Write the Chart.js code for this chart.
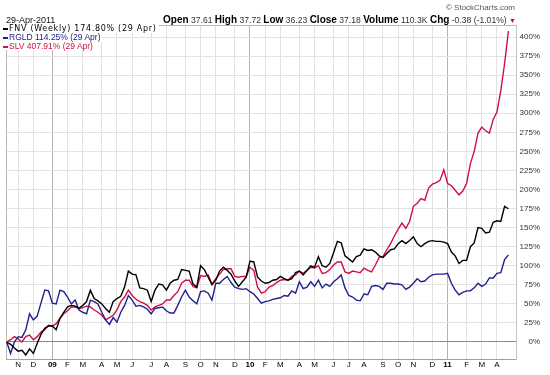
<!DOCTYPE html>
<html lang="en">
<head>
<meta charset="UTF-8">
<title>FNV / RGLD / SLV</title>
<script src="https://cdn.jsdelivr.net/npm/chart.js"></script>
<style>
  body { margin: 0; background: #fff; }
  #wrap { position: relative; width: 550px; height: 375px; font-family: "Liberation Sans", Arial, sans-serif; }
  #grafico { position: absolute; left: 0; top: 0; }
  .txt { position: absolute; white-space: nowrap; line-height: 1; }
  #copy { right: 35px; top: 4px; font-size: 8px; color: #555; }
  #data { left: 6px; top: 16px; font-size: 9px; color: #111; }
  #ohlc { right: 34px; top: 15px; font-size: 8.6px; color: #333; }
  #ohlc b { font-size: 10px; color: #000; }
  #ohlc .seta { color: #c8102e; font-size: 7px; }
  #legenda { position: absolute; left: 3px; top: 25px; }
  .leg { display: table; height: 8.4px; line-height: 8.4px; white-space: nowrap; font-size: 8.5px; background: #fff; padding-right: 2px; }
  .leg span.m { display: inline-block; width: 5px; height: 2px; margin-right: 1px; vertical-align: middle; }
</style>
</head>
<body>
<div id="wrap">
  <canvas id="grafico" width="550" height="375"></canvas>
  <div class="txt" id="copy">&copy; StockCharts.com</div>
  <div class="txt" id="data">29-Apr-2011</div>
  <div class="txt" id="ohlc"><b>Open</b> 37.61 <b>High</b> 37.72 <b>Low</b> 36.23 <b>Close</b> 37.18 <b>Volume</b> 110.3K <b>Chg</b> -0.38 (-1.01%) <span class="seta">&#9660;</span></div>
  <div id="legenda">
    <div class="leg" style="font-family: 'DejaVu Sans'; font-size: 8px; letter-spacing: 0.7px; color:#000"><span class="m" style="background:#000"></span><span>FNV (Weekly) 174.80% (29 Apr)</span></div>
    <div class="leg" style="color:#202090"><span class="m" style="background:#202090"></span><span>RGLD 114.25% (29 Apr)</span></div>
    <div class="leg" style="color:#d01040"><span class="m" style="background:#d01040"></span><span>SLV 407.91% (29 Apr)</span></div>
  </div>
</div>

<script>
// variacao % semanal desde out/2008
const fnv = [0, -3, -8, -12, -11, -17, -9, -15, -2, 10, 18, 21, 21, 16, 31, 39, 46, 48, 47, 44,
  48, 53, 68, 57, 54, 50, 44, 39, 53, 57, 60, 72, 93, 89, 88, 71, 70, 68, 53, 68,
  76, 75, 68, 77, 81, 82, 95, 94, 93, 76, 72, 100, 95, 85, 75, 81, 93, 98, 94, 89,
  80, 73, 79, 85, 106, 105, 85, 80, 77, 78, 81, 82, 86, 83, 81, 83, 91, 93, 88, 94,
  100, 98, 112, 100, 98, 103, 117, 132, 130, 113, 109, 105, 112, 114, 122, 120, 121, 118, 113, 111,
  116, 121, 122, 129, 133, 129, 133, 138, 129, 125, 129, 132, 133, 132, 132, 131, 129, 118, 113, 103,
  107, 107, 125, 130, 150, 149, 143, 144, 157, 159, 158, 178, 174.8];

const rgld = [0, -15, 0, 7, 6, 16, 37, 29, 34, 51, 68, 67, 51, 50, 68, 66, 59, 50, 55, 42,
  39, 37, 55, 53, 50, 39, 29, 23, 32, 26, 39, 48, 61, 55, 47, 48, 46, 43, 37, 44,
  45, 46, 41, 38, 38, 48, 59, 68, 59, 54, 50, 66, 67, 64, 55, 77, 77, 82, 86, 78,
  72, 70, 69, 70, 66, 63, 57, 51, 53, 54, 56, 57, 58, 61, 60, 67, 64, 79, 70, 72,
  79, 73, 81, 71, 76, 73, 79, 83, 88, 71, 61, 59, 55, 54, 63, 62, 73, 74, 73, 69,
  77, 77, 76, 76, 75, 69, 72, 77, 83, 79, 80, 85, 88, 89, 89, 89, 90, 77, 68, 62,
  65, 67, 67, 71, 77, 73, 76, 84, 84, 90, 91, 108, 114.25];

const slv = [0, 3, 7, 4, 0, 7, 9, 3, 7, 13, 16, 22, 21, 24, 31, 37, 41, 46, 46, 44,
  45, 47, 46, 42, 39, 35, 29, 32, 35, 42, 53, 59, 68, 61, 56, 53, 51, 48, 42, 46,
  48, 50, 55, 55, 61, 66, 77, 81, 81, 73, 71, 87, 86, 88, 76, 83, 89, 95, 96, 96,
  86, 85, 86, 86, 98, 94, 72, 64, 66, 72, 74, 78, 81, 82, 81, 86, 88, 93, 90, 94,
  98, 97, 100, 90, 91, 95, 101, 105, 105, 92, 90, 93, 92, 91, 97, 94, 92, 101, 111, 112,
  121, 129, 139, 148, 156, 149, 158, 178, 182, 188, 186, 202, 207, 209, 212, 226, 208, 205, 199, 193,
  198, 208, 234, 250, 274, 282, 277, 274, 292, 302, 330, 365, 407.91];

// semana em que comeca cada mes e o rotulo do eixo
const monthWeeks = [3, 7, 12, 16, 20, 25, 29, 33, 38, 42, 47, 51, 55, 60, 64, 68, 72, 77, 81, 86, 90, 94, 99, 103, 107, 112, 116, 121, 125, 129];
const monthLabels = ['N', 'D', '09', 'F', 'M', 'A', 'M', 'J', 'J', 'A', 'S', 'O', 'N', 'D', '10', 'F', 'M', 'A', 'M', 'J', 'J', 'A', 'S', 'O', 'N', 'D', '11', 'F', 'M', 'A'];
const yearLabels = ['09', '10', '11'];
const pctTicks = [0, 25, 50, 75, 100, 125, 150, 175, 200, 225, 250, 275, 300, 325, 350, 375, 400];

function pontos(serie) {
    return serie.map((v, i) => ({ x: i, y: v }));
}

const moldura = {
    id: 'moldura',
    beforeDatasetsDraw(chart) {
        const a = chart.chartArea;
        const c = chart.ctx;
        c.save();
        c.strokeStyle = '#b8b8b8';
        c.lineWidth = 1;
        c.beginPath();
        c.moveTo(a.left + 0.5, a.bottom);
        c.lineTo(a.left + 0.5, a.top + 0.5);
        c.lineTo(a.right, a.top + 0.5);
        c.stroke();
        c.restore();
    }
};

const ctx = document.getElementById('grafico').getContext('2d');

new Chart(ctx, {
    type: 'line',
    data: {
        datasets: [
            { label: 'FNV', data: pontos(fnv), borderColor: '#000000', borderWidth: 1.4, pointRadius: 0, tension: 0 },
            { label: 'RGLD', data: pontos(rgld), borderColor: '#202090', borderWidth: 1.4, pointRadius: 0, tension: 0 },
            { label: 'SLV', data: pontos(slv), borderColor: '#d01040', borderWidth: 1.4, pointRadius: 0, tension: 0 }
        ]
    },
    options: {
        responsive: false,
        animation: false,
        layout: { padding: { left: 6, top: 25, right: 10, bottom: 0 } },
        plugins: {
            legend: { display: false },
            tooltip: { enabled: false }
        },
        scales: {
            x: {
                type: 'linear',
                min: -0.2,
                max: 134,
                afterBuildTicks: s => { s.ticks = monthWeeks.map(v => ({ value: v })); },
                afterFit: s => { s.height = 16; },
                ticks: {
                    autoSkip: false,
                    maxRotation: 0,
                    padding: 1,
                    color: '#000',
                    callback: (v, i) => monthLabels[i],
                    font: c => ({
                        family: 'Liberation Sans',
                        size: 8,
                        weight: yearLabels.includes(monthLabels[c.index]) ? 'bold' : 'normal'
                    })
                },
                grid: {
                    drawTicks: false,
                    color: c => yearLabels.includes(monthLabels[c.index]) ? '#b4b4b4' : '#e2e2e2'
                },
                border: { display: true, color: '#a0a0a0' }
            },
            y: {
                position: 'right',
                min: -22.3,
                max: 415.8,
                afterBuildTicks: s => { s.ticks = pctTicks.map(v => ({ value: v })); },
                afterFit: s => { s.width = 24; },
                ticks: {
                    padding: 4,
                    crossAlign: 'far',
                    color: '#333',
                    font: { family: 'Liberation Sans', size: 8 },
                    callback: v => v + '%'
                },
                grid: {
                    drawTicks: false,
                    color: c => (c.tick && c.tick.value === 0) ? '#8a8a8a' : '#e2e2e2'
                },
                border: { display: true, color: '#c4c4c4' }
            }
        }
    },
    plugins: [moldura]
});
</script>
</body>
</html>
